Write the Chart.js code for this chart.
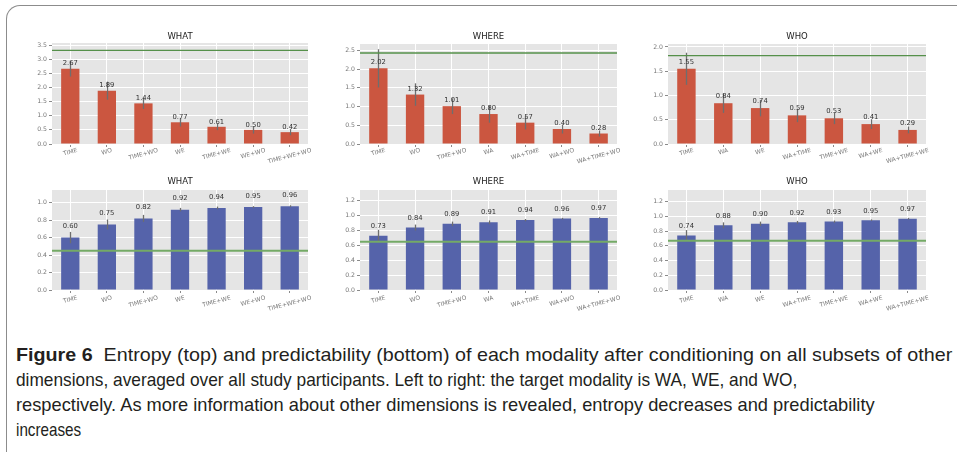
<!DOCTYPE html>
<html><head><meta charset="utf-8">
<script src="https://cdn.jsdelivr.net/npm/chart.js@4"></script>
<style>
html,body{margin:0;padding:0;background:#fff;width:957px;height:452px;overflow:hidden;position:relative;}
#frame{position:absolute;left:6px;top:5px;width:980px;height:480px;border-top:1px solid #8c8c8c;border-left:1px solid #8c8c8c;border-top-left-radius:14px;}
canvas{position:absolute;}
.cap{position:absolute;left:16px;white-space:nowrap;font-family:"Liberation Sans",Arial,sans-serif;font-size:18.5px;color:#231f20;transform-origin:0 50%;line-height:24px;}
</style></head><body>
<div id="frame"></div>
<div class="cap" id="c1" style="top:343px"><b>Figure 6</b>&nbsp; Entropy (top) and predictability (bottom) of each modality after conditioning on all subsets of other</div>
<div class="cap" id="c2" style="top:368px">dimensions, averaged over all study participants. Left to right: the target modality is WA, WE, and WO,</div>
<div class="cap" id="c3" style="top:393px">respectively. As more information about other dimensions is revealed, entropy decreases and predictability</div>
<div class="cap" id="c4" style="top:418px">increases</div>
<script>
// ---- data ----
const whatCats  = ['TIME','WO','TIME+WO','WE','TIME+WE','WE+WO','TIME+WE+WO'];
const whereCats = ['TIME','WO','TIME+WO','WA','WA+TIME','WA+WO','WA+TIME+WO'];
const whoCats   = ['TIME','WA','WE','WA+TIME','TIME+WE','WA+WE','WA+TIME+WE'];

const whatEntropy     = [2.67,1.89,1.44,0.77,0.61,0.50,0.42];
const whatEntropyErr  = [0.28,0.32,0.20,0.15,0.12,0.13,0.11];
const whereEntropy    = [2.02,1.32,1.01,0.80,0.57,0.40,0.28];
const whereEntropyErr = [0.51,0.30,0.21,0.23,0.18,0.12,0.08];
const whoEntropy      = [1.55,0.84,0.74,0.59,0.53,0.41,0.29];
const whoEntropyErr   = [0.33,0.20,0.17,0.14,0.12,0.10,0.07];

const whatPred     = [0.60,0.75,0.82,0.92,0.94,0.95,0.96];
const whatPredErr  = [0.065,0.057,0.04,0.02,0.015,0.01,0.01];
const wherePred    = [0.73,0.84,0.89,0.91,0.94,0.96,0.97];
const wherePredErr = [0.08,0.04,0.03,0.025,0.015,0.01,0.01];
const whoPred      = [0.74,0.88,0.90,0.92,0.93,0.95,0.97];
const whoPredErr   = [0.075,0.04,0.03,0.02,0.015,0.01,0.01];

const entropyBaselines = [3.32,2.43,1.82];
const predBaselines    = [0.448,0.65,0.67];

const whatEntropyTicks  = [0,0.5,1.0,1.5,2.0,2.5,3.0,3.5];
const whereEntropyTicks = [0,0.5,1.0,1.5,2.0,2.5];
const whoEntropyTicks   = [0,0.5,1.0,1.5,2.0];
const whatPredTicks     = [0,0.2,0.4,0.6,0.8,1.0];
const otherPredTicks    = [0,0.2,0.4,0.6,0.8,1.0,1.2];

// ---- styles / layout ----
const RED='#cb5640', BLUE='#5563aa';
Chart.defaults.font.family='"DejaVu Sans", sans-serif';
const FF='"DejaVu Sans", sans-serif';

const panels=[
 {title:'WHAT', cats:whatCats, vals:whatEntropy, errs:whatEntropyErr, base:entropyBaselines[0], ticks:whatEntropyTicks, max:3.58, color:RED, rect:[52,43,308,144], labelOff:5, titleOff:6.5, xPad:3, baseColor:'#55904a', baseW:1.3},
 {title:'WHERE', cats:whereCats, vals:whereEntropy, errs:whereEntropyErr, base:entropyBaselines[1], ticks:whereEntropyTicks, max:2.67, color:RED, rect:[360,44,617,144], labelOff:5.7, titleOff:7.3, xPad:3, baseColor:'#55904a', baseW:1.3},
 {title:'WHO', cats:whoCats, vals:whoEntropy, errs:whoEntropyErr, base:entropyBaselines[2], ticks:whoEntropyTicks, max:2.06, color:RED, rect:[668,44,926,144], labelOff:6.7, titleOff:7.3, xPad:3, baseColor:'#55904a', baseW:1.3},
 {title:'WHAT', cats:whatCats, vals:whatPred, errs:whatPredErr, base:predBaselines[0], ticks:whatPredTicks, max:1.145, color:BLUE, rect:[52,190,308,290], labelOff:11, titleOff:8.3, xPad:4.5, baseColor:'#74aa66', baseW:2},
 {title:'WHERE', cats:whereCats, vals:wherePred, errs:wherePredErr, base:predBaselines[1], ticks:otherPredTicks, max:1.345, color:BLUE, rect:[360,190,617,290], labelOff:9.8, titleOff:8.3, xPad:4.5, baseColor:'#74aa66', baseW:2},
 {title:'WHO', cats:whoCats, vals:whoPred, errs:whoPredErr, base:predBaselines[2], ticks:otherPredTicks, max:1.36, color:BLUE, rect:[668,190,926,290], labelOff:9.4, titleOff:8.3, xPad:4.5, baseColor:'#74aa66', baseW:2}
];

function panelPlugin(p){
 return {id:'panelDeco',
  beforeDraw(c){const a=c.chartArea,ctx=c.ctx;ctx.save();ctx.fillStyle='#e5e5e5';ctx.fillRect(a.left,a.top,a.right-a.left,a.bottom-a.top);ctx.restore();},
  afterDatasetsDraw(c){
   const ctx=c.ctx,a=c.chartArea,xs=c.scales.x,ys=c.scales.y;
   ctx.save();
   ctx.strokeStyle='#6e6e6e';ctx.lineWidth=1.3;
   p.vals.forEach((v,i)=>{const x=Math.round(xs.getPixelForValue(i))+0.5;ctx.beginPath();ctx.moveTo(x,ys.getPixelForValue(v-p.errs[i]));ctx.lineTo(x,ys.getPixelForValue(v+p.errs[i]));ctx.stroke();});
   const yb=ys.getPixelForValue(p.base);ctx.strokeStyle=p.baseColor;ctx.lineWidth=p.baseW;
   ctx.beginPath();ctx.moveTo(a.left,yb);ctx.lineTo(a.right,yb);ctx.stroke();
   ctx.fillStyle='#333';ctx.font='6.8px '+FF;ctx.textAlign='center';ctx.textBaseline='middle';
   p.vals.forEach((v,i)=>{ctx.fillText(v.toFixed(2),xs.getPixelForValue(i),ys.getPixelForValue(v)-p.labelOff);});
   ctx.fillStyle='#222';ctx.font='8.5px '+FF;
   ctx.fillText(p.title,(a.left+a.right)/2,a.top-p.titleOff);
   const th=15*Math.PI/180, h=7;
   ctx.fillStyle='#777';ctx.font='6px '+FF;
   p.cats.forEach((lab,i)=>{
     const w=ctx.measureText(lab).width;
     const bh=w*Math.sin(th)+h*Math.cos(th);
     const cx=xs.getPixelForValue(i), cy=a.bottom+p.xPad+bh/2;
     ctx.save();ctx.translate(cx,cy);ctx.rotate(-th);ctx.fillText(lab,0,0);ctx.restore();
   });
   ctx.restore();
  }};
}

function makePanel(p){
 const padL=45,padT=22,padR=15,padB=34;
 const [l,t,r,b]=p.rect;
 const W=(r-l)+padL+padR,H=(b-t)+padT+padB;
 const cv=document.createElement('canvas');
 cv.width=W;cv.height=H;
 cv.style.left=(l-padL)+'px';cv.style.top=(t-padT)+'px';cv.style.width=W+'px';cv.style.height=H+'px';
 document.body.appendChild(cv);
 new Chart(cv,{type:'bar',
  data:{labels:p.cats,datasets:[{data:p.vals,backgroundColor:p.color,categoryPercentage:1,barPercentage:0.5,borderWidth:0}]},
  options:{responsive:false,animation:false,devicePixelRatio:1,
   layout:{padding:{top:padT,right:padR,left:0,bottom:0}},
   plugins:{legend:{display:false},tooltip:{enabled:false},title:{display:false}},
   scales:{
    x:{type:'category',offset:true,grid:{offset:false,color:'#ffffff',lineWidth:1,tickColor:'#8a8a8a',tickLength:3},border:{display:false},ticks:{display:false},afterFit(s){s.height=padB;}},
    y:{type:'linear',min:0,max:p.max,afterBuildTicks(s){s.ticks=p.ticks.map(v=>({value:v}));},
       grid:{color:'#ffffff',lineWidth:1,tickColor:'#8a8a8a',tickLength:3},border:{display:false},
       ticks:{font:{size:6.2},color:'#777',padding:2,callback:v=>Number(v).toFixed(1)},afterFit(s){s.width=padL;}}
   }},
  plugins:[panelPlugin(p)]});
}
panels.forEach(makePanel);

// caption: each line compressed to the width it has in the reference
const capTargets=[['c1',936],['c2',781],['c3',859],['c4',65]];
capTargets.forEach(([id,tw])=>{const el=document.getElementById(id);el.style.transform='scaleX('+(tw/el.offsetWidth)+')';});
</script>
</body></html>
